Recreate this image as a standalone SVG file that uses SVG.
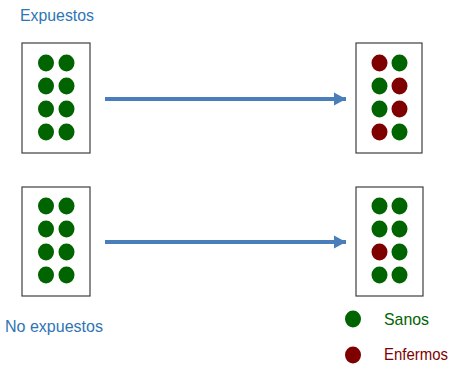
<svg xmlns="http://www.w3.org/2000/svg" width="457" height="369" viewBox="0 0 457 369">
<style>
.box{fill:#fff;stroke:#3f3f3f;stroke-width:1.2}
.g{fill:#006400}
.r{fill:#7f0000}
.lbl{font-family:"Liberation Sans",Arial,sans-serif;font-size:17px}
.conn{stroke:#4a7ebb;stroke-width:4;fill:none}
</style>
<defs>
<marker id="ah" markerUnits="userSpaceOnUse" markerWidth="14" markerHeight="14" refX="12" refY="7" orient="auto">
<path d="M0,0.5 L12,7 L0,13.5 Z" fill="#4a7ebb"/>
</marker>
</defs>
<rect width="457" height="369" fill="#fff"/>
<text class="lbl" x="20" y="21" fill="#2e75b6" textLength="74" lengthAdjust="spacingAndGlyphs">Expuestos</text>
<text class="lbl" x="5" y="332" fill="#2e75b6" textLength="98" lengthAdjust="spacingAndGlyphs">No expuestos</text>
<g id="connectors">
<line class="conn" x1="105" y1="99" x2="346" y2="99" marker-end="url(#ah)"/>
<line class="conn" x1="105" y1="242" x2="346" y2="242" marker-end="url(#ah)"/>
</g>
<g id="exp-before">
<rect class="box" x="22" y="43" width="68" height="110"/>
<ellipse class="g" cx="46" cy="63" rx="8" ry="8.5"/><ellipse class="g" cx="66.5" cy="63" rx="8" ry="8.5"/>
<ellipse class="g" cx="46" cy="86" rx="8" ry="8.5"/><ellipse class="g" cx="66.5" cy="86" rx="8" ry="8.5"/>
<ellipse class="g" cx="46" cy="109" rx="8" ry="8.5"/><ellipse class="g" cx="66.5" cy="109" rx="8" ry="8.5"/>
<ellipse class="g" cx="46" cy="132" rx="8" ry="8.5"/><ellipse class="g" cx="66.5" cy="132" rx="8" ry="8.5"/>
</g>
<g id="exp-after">
<rect class="box" x="356" y="43" width="66" height="110"/>
<ellipse class="r" cx="379.5" cy="63" rx="8" ry="8.5"/><ellipse class="g" cx="399.5" cy="63" rx="8" ry="8.5"/>
<ellipse class="g" cx="379.5" cy="86" rx="8" ry="8.5"/><ellipse class="r" cx="399.5" cy="86" rx="8" ry="8.5"/>
<ellipse class="g" cx="379.5" cy="109" rx="8" ry="8.5"/><ellipse class="r" cx="399.5" cy="109" rx="8" ry="8.5"/>
<ellipse class="r" cx="379.5" cy="132" rx="8" ry="8.5"/><ellipse class="g" cx="399.5" cy="132" rx="8" ry="8.5"/>
</g>
<g id="noexp-before">
<rect class="box" x="22" y="187" width="68" height="109"/>
<ellipse class="g" cx="46" cy="206" rx="8" ry="8.5"/><ellipse class="g" cx="66.5" cy="206" rx="8" ry="8.5"/>
<ellipse class="g" cx="46" cy="229" rx="8" ry="8.5"/><ellipse class="g" cx="66.5" cy="229" rx="8" ry="8.5"/>
<ellipse class="g" cx="46" cy="252" rx="8" ry="8.5"/><ellipse class="g" cx="66.5" cy="252" rx="8" ry="8.5"/>
<ellipse class="g" cx="46" cy="275" rx="8" ry="8.5"/><ellipse class="g" cx="66.5" cy="275" rx="8" ry="8.5"/>
</g>
<g id="noexp-after">
<rect class="box" x="356" y="187" width="67" height="109"/>
<ellipse class="g" cx="379.5" cy="206" rx="8" ry="8.5"/><ellipse class="g" cx="399.5" cy="206" rx="8" ry="8.5"/>
<ellipse class="g" cx="379.5" cy="229" rx="8" ry="8.5"/><ellipse class="g" cx="399.5" cy="229" rx="8" ry="8.5"/>
<ellipse class="r" cx="379.5" cy="252" rx="8" ry="8.5"/><ellipse class="g" cx="399.5" cy="252" rx="8" ry="8.5"/>
<ellipse class="g" cx="379.5" cy="275" rx="8" ry="8.5"/><ellipse class="g" cx="399.5" cy="275" rx="8" ry="8.5"/>
</g>
<g id="legend-sanos">
<ellipse class="g" cx="353" cy="319" rx="8" ry="8.5"/>
<text class="lbl" x="384" y="325" fill="#006400" textLength="45" lengthAdjust="spacingAndGlyphs">Sanos</text>
</g>
<g id="legend-enfermos">
<ellipse class="r" cx="353" cy="355" rx="8" ry="8.5"/>
<text class="lbl" x="384" y="360" fill="#7f0000" textLength="64" lengthAdjust="spacingAndGlyphs">Enfermos</text>
</g>
</svg>
